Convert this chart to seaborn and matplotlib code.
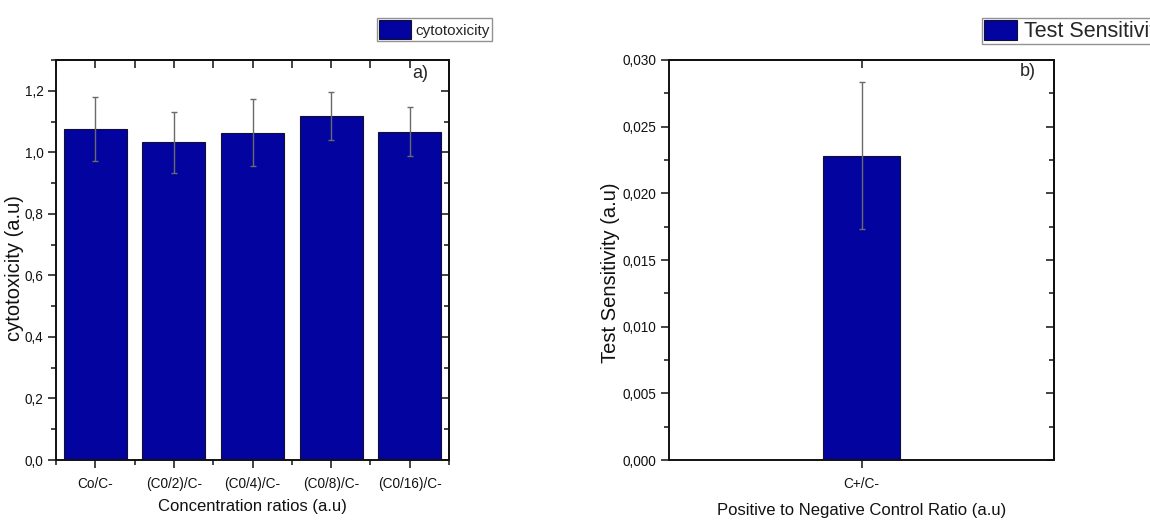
import matplotlib
matplotlib.use("Agg")
import matplotlib.pyplot as plt
from matplotlib import font_manager
from matplotlib.ticker import MultipleLocator, FuncFormatter, FixedLocator
import seaborn as sns
import pandas as pd

# ---- data ----
categories_a = ["Co/C-", "(C0/2)/C-", "(C0/4)/C-", "(C0/8)/C-", "(C0/16)/C-"]
cytotoxicity = [1.076, 1.032, 1.064, 1.118, 1.067]
cytotoxicity_err = [0.103, 0.098, 0.108, 0.079, 0.080]

categories_b = ["C+/C-"]
sensitivity = [0.02282]
sensitivity_err = [0.0055]

sns.set_style("ticks")
names = {f.name for f in font_manager.fontManager.ttflist}
narrow = "Liberation Sans Narrow" if "Liberation Sans Narrow" in names else "Liberation Sans"
plt.rcParams["font.family"] = ["Liberation Sans", "DejaVu Sans"]

BAR = "#0303A0"
ERR = "#6a6a6a"

fig = plt.figure(figsize=(11.5, 5.2), dpi=100)
axA = fig.add_axes([56/1150, 60/520, 393/1150, 400/520])
axB = fig.add_axes([669/1150, 60/520, 385/1150, 400/520])

def style_axes(ax, xfmt_dec, ymajor, yminor, xminor_locs):
    for s in ax.spines.values():
        s.set_linewidth(1.4)
        s.set_color("#111111")
    ax.yaxis.set_major_locator(MultipleLocator(ymajor))
    ax.yaxis.set_minor_locator(MultipleLocator(yminor))
    ax.yaxis.set_major_formatter(FuncFormatter(lambda v, p: f"{v:.{xfmt_dec}f}".replace(".", ",")))
    ax.tick_params(axis="both", which="major", direction="out", length=6, width=1.1,
                   color="#111111", labelsize=9.8, pad=3, labelcolor="#111111")
    ax.tick_params(axis="x", which="major", pad=6)
    ax.tick_params(axis="both", which="minor", direction="out", length=3.5, width=1.1, color="#111111")
    ax.tick_params(top=False, right=False)
    for lab in ax.get_xticklabels() + ax.get_yticklabels():
        lab.set_family([narrow, "DejaVu Sans"])
    if xminor_locs:
        ax.xaxis.set_minor_locator(FixedLocator(xminor_locs))
    # right side: inward ticks
    sy = ax.secondary_yaxis("right")
    sy.yaxis.set_major_locator(MultipleLocator(ymajor))
    sy.yaxis.set_minor_locator(MultipleLocator(yminor))
    sy.tick_params(which="major", direction="in", length=6, width=1.1, labelright=False, color="#111111")
    sy.tick_params(which="minor", direction="in", length=3.5, width=1.1, color="#111111")
    sy.spines["right"].set_linewidth(1.4)
    # top side: inward ticks
    sx = ax.secondary_xaxis("top")
    sx.xaxis.set_major_locator(FixedLocator(list(ax.get_xticks())))
    if xminor_locs:
        sx.xaxis.set_minor_locator(FixedLocator(xminor_locs))
    sx.tick_params(which="major", direction="in", length=6, width=1.1, labeltop=False, color="#111111")
    sx.tick_params(which="minor", direction="in", length=6, width=1.1, color="#111111")
    sx.spines["top"].set_linewidth(1.4)

# ---- panel a ----
dfa = pd.DataFrame({"cat": categories_a, "val": cytotoxicity})
sns.barplot(data=dfa, x="cat", y="val", ax=axA, color=BAR, saturation=1, width=0.8,
            edgecolor="#101030", linewidth=0.8, errorbar=None, label="cytotoxicity")
axA.errorbar(range(len(categories_a)), cytotoxicity, yerr=cytotoxicity_err, fmt="none",
             ecolor=ERR, elinewidth=1.0, capsize=2.2, capthick=1.0, zorder=5)
axA.set_xlim(-0.5, len(categories_a) - 0.5)
axA.set_ylim(0, 1.3)
style_axes(axA, 1, 0.2, 0.1, [i + 0.5 for i in range(-1, len(categories_a))])
axA.set_xlabel("Concentration ratios (a.u)", fontsize=12, family=[narrow, "DejaVu Sans"], color="#111111")
axA.xaxis.set_label_coords(0.5, -0.098)
axA.set_ylabel("cytotoxicity (a.u)", fontsize=14.5, color="#111111")
axA.yaxis.set_label_coords(-0.082, 0.48)
axA.text(0.926, 0.967, "a)", transform=axA.transAxes, ha="center", va="center", fontsize=13)
legA = axA.legend(loc="upper right", bbox_to_anchor=(1.109, 1.105), borderaxespad=0,
                  frameon=True, fancybox=False, edgecolor="#777777",
                  handlelength=2.1, handleheight=1.6, borderpad=0.12, handletextpad=0.3,
                  prop={"family": [narrow, "DejaVu Sans"], "size": 11})
legA.get_frame().set_linewidth(1.0)

# ---- panel b ----
dfb = pd.DataFrame({"cat": categories_b, "val": sensitivity})
sns.barplot(data=dfb, x="cat", y="val", ax=axB, color=BAR, saturation=1, width=0.2,
            edgecolor="#101030", linewidth=0.8, errorbar=None, label="Test Sensitivity")
axB.errorbar(range(len(categories_b)), sensitivity, yerr=sensitivity_err, fmt="none",
             ecolor=ERR, elinewidth=1.0, capsize=2.2, capthick=1.0, zorder=5)
axB.set_xlim(-0.5, 0.5)
axB.set_ylim(0, 0.030)
style_axes(axB, 3, 0.005, 0.0025, None)
axB.set_xlabel("Positive to Negative Control Ratio (a.u)", fontsize=12,
               family=[narrow, "DejaVu Sans"], color="#111111")
axB.xaxis.set_label_coords(0.5, -0.108)
axB.set_ylabel("Test Sensitivity (a.u)", fontsize=14.5, color="#111111")
axB.yaxis.set_label_coords(-0.128, 0.467)
axB.text(0.932, 0.97, "b)", transform=axB.transAxes, ha="center", va="center", fontsize=13)
legB = axB.legend(loc="upper left", bbox_to_anchor=(0.813, 1.105), borderaxespad=0,
                  frameon=True, fancybox=False, edgecolor="#777777",
                  handlelength=1.55, handleheight=1.05, borderpad=0.08, handletextpad=0.3,
                  prop={"family": [narrow, "DejaVu Sans"], "size": 15.5})
legB.get_frame().set_linewidth(1.0)

fig.savefig("out.png", dpi=100, facecolor="white")
